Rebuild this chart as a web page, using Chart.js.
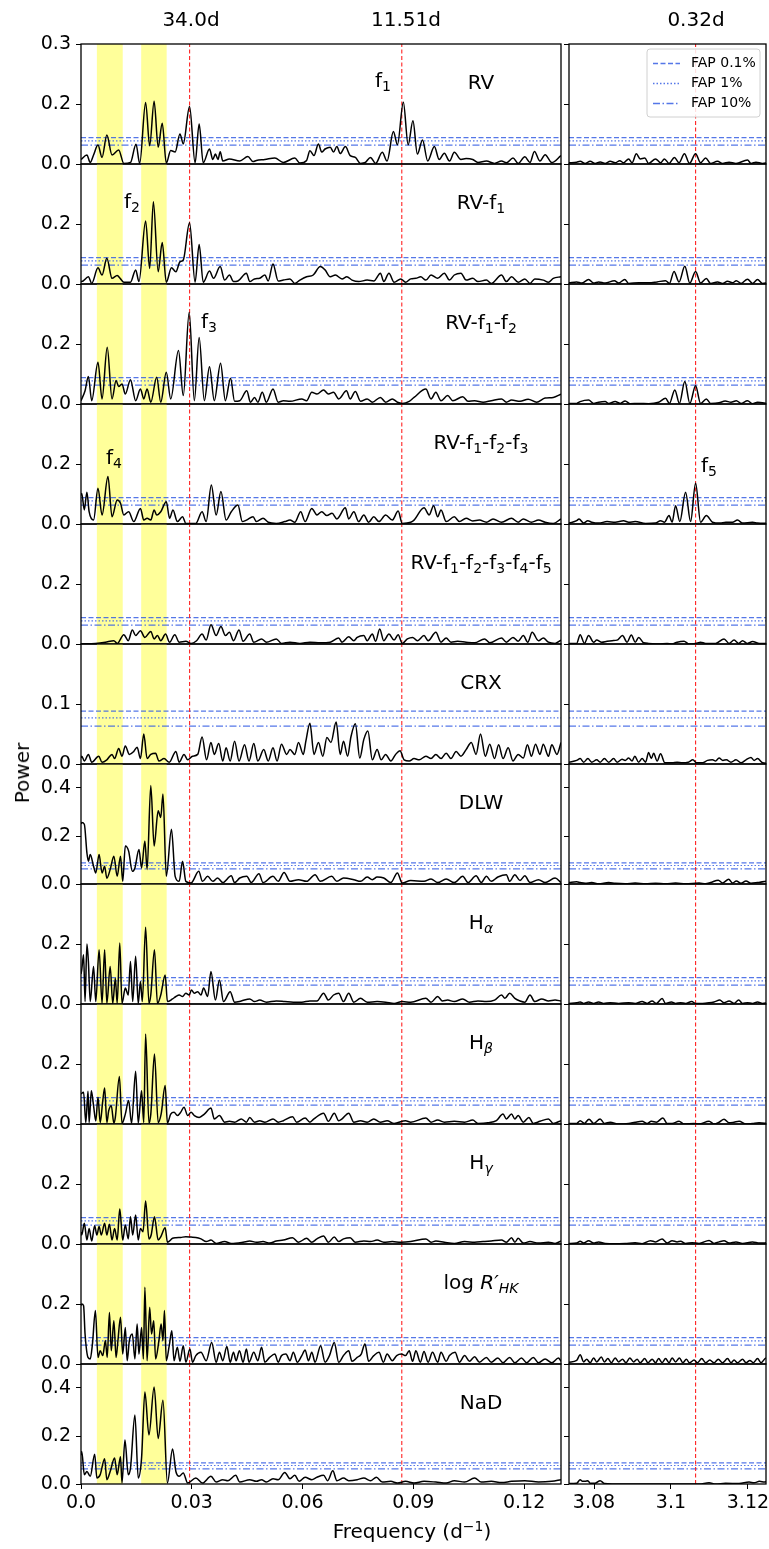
<!DOCTYPE html>
<html>
<head>
<meta charset="utf-8">
<script src="https://cdn.jsdelivr.net/npm/chart.js@4.4.1/dist/chart.umd.min.js"></script>
<style>
  body { margin: 0; background: #fff; }
  #fig { position: relative; width: 769px; height: 1549px; font-family: 'DejaVu Sans', sans-serif; overflow: hidden; }
  canvas { position: absolute; }
  .t { position: absolute; transform: translate(-50%, -50%); white-space: nowrap; font-size: 20px; color: #000; line-height: 1; }
  .t sub { font-size: 70%; vertical-align: -0.3em; line-height: 0; }
  .t sup { font-size: 70%; vertical-align: 0.5em; line-height: 0; }
</style>
</head>
<body>
<div id="fig"></div>
<script>
// periodograms: [frequency in 1e-3 d^-1, power in 1e-3]
const rvL = [[0,15],[1.6,30],[2.5,5],[3.4,30],[4.6,63],[5.7,22],[7.0,97],[8.4,30],[10.2,47],[11.6,2],[13.4,5],[14.9,66],[15.9,2],[17.5,205],[18.6,61],[19.8,209],[20.9,56],[22.0,136],[23.1,3],[24.3,45],[25.5,40],[26.8,100],[27.7,67],[29.4,192],[30.9,4],[32.0,133],[33.1,4],[34.8,50],[35.7,15],[36.4,33],[37.1,15],[37.7,41],[38.4,10],[40.2,17],[43.0,10],[45.2,25],[46.6,8],[47.5,12],[49.8,15],[52.5,20],[54.8,5],[57.9,20],[59.3,3],[61.1,12],[62.0,44],[63.1,28],[64.3,67],[65.2,40],[66.1,50],[67.5,56],[68.4,40],[69.3,58],[70.2,35],[71.6,58],[72.9,28],[74.3,22],[75.7,2],[77.0,5],[78.4,22],[79.8,2],[81.6,39],[82.9,10],[84.6,108],[85.7,64],[87.3,206],[88.6,64],[89.9,144],[91.1,33],[92.5,80],[93.9,10],[95.7,58],[97.0,15],[98.4,36],[99.8,10],[101.1,39],[102.9,15],[104.3,18],[106.1,15],[107.5,5],[109.8,10],[112.0,2],[113.9,10],[115.2,4],[117.0,20],[118.4,2],[120.2,24],[121.6,5],[122.8,42],[124.3,10],[125.7,31],[127.5,5],[130,28]];
const rvf1L = [[0,8],[0.2,8],[2.0,24],[2.9,2],[4.6,54],[5.7,30],[7.0,86],[8.4,19],[9.8,28],[10.7,17],[11.6,6],[13.4,6],[14.8,47],[15.7,8],[17.5,210],[18.6,52],[19.6,274],[20.9,41],[22.0,138],[23.1,6],[24.5,54],[25.7,41],[26.8,74],[27.7,80],[29.4,204],[30.9,6],[32.0,132],[33.1,6],[34.8,43],[35.9,19],[37.7,58],[38.9,13],[40.2,30],[41.3,8],[42.5,10],[44.8,36],[45.7,8],[47.0,17],[48.4,19],[49.8,30],[50.7,10],[52.0,67],[53.4,10],[54.8,13],[56.6,17],[57.9,2],[59.3,13],[61.1,24],[62.9,30],[64.8,58],[66.1,47],[67.5,24],[68.9,30],[70.7,17],[72.0,24],[73.4,13],[75.2,8],[77.5,13],[79.3,10],[81.1,36],[82.0,8],[83.4,36],[84.8,6],[86.6,17],[87.9,6],[89.3,17],[90.7,19],[92.0,24],[93.4,13],[94.8,30],[96.6,19],[98.4,36],[99.8,13],[101.1,30],[102.9,36],[104.3,13],[106.1,19],[107.5,8],[109.8,13],[111.1,2],[113.9,30],[115.2,8],[116.6,24],[118.4,6],[120.2,17],[121.6,2],[122.9,17],[125.2,13],[126.6,6],[127.9,19],[130,24]];
const rvf12L = [[0,11],[1.1,44],[2.0,92],[2.9,11],[4.6,139],[5.7,17],[7.1,189],[8.4,17],[9.5,78],[10.2,58],[11.1,67],[12.0,33],[13.4,81],[14.8,11],[16.1,50],[17.0,17],[17.9,50],[18.9,6],[20.5,89],[21.6,6],[23.1,106],[24.3,17],[26.4,178],[27.7,28],[29.3,306],[30.7,11],[32.0,222],[33.4,11],[34.8,124],[36.1,11],[37.8,136],[39.1,11],[40.5,86],[41.6,9],[43.0,11],[44.9,44],[45.9,6],[47.0,22],[47.9,6],[49.1,39],[50.2,6],[52.0,50],[53.4,6],[54.8,11],[56.6,9],[59.8,17],[61.1,11],[62.5,39],[63.9,33],[65.7,47],[67.0,33],[68.4,39],[69.8,17],[71.9,44],[72.9,17],[74.3,42],[75.7,9],[77.5,17],[78.9,6],[81.1,22],[82.5,6],[84.3,17],[85.7,6],[87.0,2],[88.9,9],[90.2,22],[93.4,50],[94.8,17],[96.1,39],[97.5,11],[99.3,28],[100.7,11],[103.4,24],[104.8,9],[106.6,11],[108.9,6],[111.1,11],[113.9,17],[115.2,6],[116.6,13],[118.9,9],[121.1,16],[123.4,6],[125.7,20],[127.9,22],[130,33]];
const rvf123L = [[0,95],[0.2,102],[0.9,47],[1.6,106],[2.2,41],[3.4,13],[4.6,119],[5.7,30],[7.3,158],[8.4,24],[9.8,80],[10.7,69],[11.6,30],[12.9,41],[14.3,8],[16.1,52],[17.0,13],[17.9,19],[18.9,13],[19.8,47],[20.5,30],[21.6,41],[23.1,74],[24.0,19],[24.9,47],[26.1,8],[27.5,24],[28.4,2],[31.1,2],[32.8,41],[33.9,8],[35.3,130],[36.6,30],[37.9,108],[39.3,13],[40.7,41],[42.5,63],[43.7,8],[44.8,13],[46.6,24],[47.5,8],[49.3,19],[50.7,6],[52.9,2],[55.2,8],[56.6,13],[57.9,6],[59.5,41],[60.7,8],[62.5,52],[63.9,30],[65.2,41],[66.6,28],[68.0,36],[69.3,17],[71.6,54],[72.5,17],[73.9,41],[75.2,8],[76.6,30],[77.9,6],[79.3,24],[80.7,8],[82.5,30],[84.3,13],[85.9,43],[87.0,2],[89.3,6],[90.2,13],[92.9,54],[94.3,30],[95.5,61],[96.6,24],[97.5,47],[98.9,8],[101.1,24],[102.5,8],[104.3,19],[106.1,10],[107.9,13],[109.8,6],[111.6,17],[113.9,6],[116.6,19],[118.4,6],[119.8,17],[122.0,6],[123.9,13],[125.7,6],[127.9,2],[130,17]];
const rvf12345L = [[0,0],[3.9,2],[6.6,6],[8.9,11],[9.8,2],[11.6,31],[12.8,11],[13.9,47],[14.8,28],[16.1,44],[17.3,22],[18.9,42],[19.8,17],[20.7,28],[21.6,11],[22.9,33],[24.0,6],[25.4,31],[26.6,6],[28.4,9],[29.8,2],[31.3,11],[32.8,33],[33.9,13],[35.2,64],[36.6,28],[37.9,58],[39.1,28],[40.2,39],[41.3,11],[42.8,47],[43.9,9],[45.7,33],[46.8,6],[48.9,17],[50.2,6],[52.9,17],[54.3,2],[56.6,6],[59.3,2],[62.0,6],[64.8,4],[67.5,6],[69.8,20],[70.7,6],[72.5,24],[73.9,11],[74.8,22],[76.6,28],[77.5,11],[78.9,33],[79.8,9],[80.9,50],[82.0,11],[83.4,33],[84.8,13],[85.9,31],[87.0,2],[88.4,17],[89.8,22],[91.1,11],[92.9,28],[94.0,11],[96.1,39],[97.5,6],[98.9,20],[100.2,6],[102.0,9],[104.3,6],[106.6,4],[109.3,17],[110.7,4],[113.9,20],[115.2,6],[117.0,22],[118.4,9],[119.8,28],[121.0,6],[122.2,39],[123.9,11],[125.2,20],[126.6,6],[128.4,2],[130,13]];
const crxL = [[0,10],[0.2,13],[0.9,5],[2.0,16],[2.9,3],[4.8,13],[5.7,3],[7.0,7],[8.4,16],[9.1,9],[10.2,26],[11.1,13],[12.0,30],[13.1,16],[14.3,21],[15.2,28],[16.1,9],[17.0,50],[17.9,9],[18.9,16],[20.2,18],[21.1,5],[22.5,9],[23.9,3],[25.7,21],[26.6,3],[27.9,16],[28.9,7],[30.2,13],[31.6,16],[32.8,45],[34.0,7],[35.2,36],[36.1,16],[37.3,34],[38.4,5],[39.3,27],[40.4,5],[41.6,38],[42.8,5],[44.3,32],[45.5,5],[46.8,34],[47.9,5],[49.5,24],[50.7,5],[52.0,27],[53.1,5],[54.3,33],[55.7,16],[56.6,24],[57.9,16],[58.9,36],[60.2,16],[60.9,38],[62.0,68],[63.1,16],[64.3,36],[65.5,13],[66.6,44],[67.7,36],[69.1,70],[70.2,16],[71.1,38],[72.2,13],[73.1,45],[74.3,67],[75.5,10],[76.6,41],[77.7,55],[78.9,7],[80.2,24],[81.3,7],[82.5,16],[83.9,5],[85.2,16],[86.4,22],[87.5,7],[88.9,5],[90.2,9],[91.6,7],[93.4,13],[94.8,9],[96.1,16],[97.5,9],[98.9,18],[100.2,9],[101.6,21],[102.9,13],[104.3,24],[105.7,36],[107.0,16],[108.2,50],[109.5,13],[110.7,33],[112.0,9],[113.1,32],[114.3,9],[115.7,27],[117.0,5],[118.4,16],[119.8,10],[120.9,32],[122.0,13],[123.1,33],[124.3,16],[125.2,33],[126.6,13],[127.5,32],[128.9,16],[130,36]];
const dlwL = [[0,250],[0.2,256],[0.9,249],[1.6,130],[2.0,95],[2.5,123],[3.4,74],[4.0,46],[4.9,123],[5.7,46],[6.4,74],[7.0,24],[7.9,60],[8.9,116],[9.8,32],[10.7,116],[11.3,11],[12.0,158],[12.9,137],[13.9,53],[14.6,67],[15.7,144],[16.4,67],[17.3,179],[17.9,60],[18.9,410],[19.8,158],[20.9,305],[21.6,277],[22.2,375],[23.1,32],[24.5,228],[25.5,32],[26.6,11],[27.5,95],[28.4,11],[29.8,4],[31.9,53],[32.9,11],[34.3,32],[35.7,11],[37.0,25],[38.4,6],[40.7,34],[41.6,6],[43.0,25],[44.9,32],[46.1,6],[48.2,43],[49.3,6],[52.0,32],[53.4,11],[55.0,48],[56.6,11],[58.9,18],[61.1,11],[63.4,39],[64.8,11],[67.9,32],[69.3,11],[71.1,25],[73.9,18],[75.7,11],[77.5,29],[78.9,18],[80.2,29],[82.0,25],[83.9,6],[85.7,46],[87.0,4],[89.3,15],[92.9,11],[94.8,21],[96.6,6],[98.9,21],[101.1,6],[103.4,32],[104.8,6],[107.0,34],[108.4,6],[109.8,32],[111.1,11],[112.9,29],[115.2,39],[116.1,11],[117.5,39],[118.9,15],[120.2,34],[121.6,6],[123.9,18],[125.7,6],[128.4,25],[130,6]];
const haL = [[0,100],[0.2,114],[0.7,164],[1.1,8],[1.6,200],[2.0,142],[2.5,8],[3.4,125],[4.0,8],[4.9,181],[5.7,2],[6.4,181],[7.0,2],[7.9,125],[8.6,2],[9.3,86],[9.8,2],[10.5,203],[11.1,2],[12.0,53],[12.8,30],[13.4,142],[14.0,8],[14.8,159],[15.5,2],[16.1,75],[16.6,8],[17.5,256],[18.4,2],[18.9,30],[19.9,181],[20.7,2],[21.6,30],[22.8,97],[23.4,8],[24.8,17],[25.7,25],[26.6,30],[27.5,25],[28.4,36],[29.3,30],[29.9,47],[30.7,36],[31.6,41],[32.5,30],[33.2,53],[34.3,25],[35.2,108],[36.4,13],[37.5,80],[38.6,8],[40.4,41],[41.6,6],[43.4,10],[45.7,17],[47.0,8],[48.4,13],[50.2,6],[52.9,10],[55.2,8],[57.5,6],[59.8,6],[62.0,10],[63.9,10],[65.7,36],[67.0,13],[68.4,30],[69.8,36],[71.1,8],[72.5,36],[73.9,6],[75.7,19],[77.5,6],[80.2,8],[82.5,6],[84.8,2],[87.0,8],[89.3,6],[93.4,19],[94.8,6],[96.6,25],[97.9,10],[99.3,13],[101.1,8],[103.4,17],[105.2,6],[107.5,10],[109.8,8],[112.0,13],[113.9,30],[114.8,19],[116.1,36],[117.5,19],[118.9,10],[120.2,6],[121.6,30],[122.9,8],[124.8,17],[126.6,10],[128.4,13],[130,10]];
const hbL = [[0,100],[0.7,106],[1.3,5],[1.9,109],[2.2,5],[2.8,111],[3.4,61],[4.0,10],[4.6,89],[5.2,5],[5.9,78],[6.4,120],[7.0,5],[7.5,44],[8.2,61],[8.9,3],[9.3,22],[10.4,158],[11.1,2],[12.0,33],[12.9,78],[13.7,2],[14.8,176],[15.5,3],[16.4,111],[17.0,5],[17.5,300],[18.4,3],[18.9,33],[19.9,233],[20.9,5],[21.7,33],[22.8,128],[23.4,3],[24.3,33],[25.2,39],[26.1,28],[27.0,39],[27.9,56],[28.9,28],[29.8,39],[30.7,28],[32.0,22],[33.4,33],[35.2,53],[36.1,17],[37.5,28],[38.9,6],[40.2,9],[41.6,6],[43.4,17],[44.8,6],[45.7,22],[47.0,6],[48.4,11],[49.8,6],[52.0,17],[53.4,6],[54.8,11],[57.3,24],[58.4,6],[60.7,20],[62.0,6],[63.1,17],[65.7,36],[67.0,9],[68.6,36],[69.8,11],[70.7,17],[72.5,36],[73.9,6],[75.7,11],[77.5,6],[79.3,17],[81.1,6],[82.9,11],[84.8,2],[87.9,11],[89.3,6],[93.4,20],[94.8,6],[96.6,13],[98.4,6],[101.1,9],[103.9,6],[106.1,13],[107.5,2],[110.2,4],[112.5,11],[114.3,33],[115.2,17],[116.6,33],[117.5,17],[118.4,28],[119.8,6],[121.3,22],[122.5,2],[124.3,9],[126.6,17],[127.9,2],[130,11]];
const hgL = [[0,40],[0.2,30],[0.9,69],[1.6,13],[2.2,52],[2.9,10],[3.7,61],[4.3,30],[4.9,58],[5.5,30],[6.4,69],[7.0,30],[7.7,66],[8.4,13],[9.1,52],[9.8,13],[10.5,117],[11.3,13],[12.0,63],[12.8,17],[13.4,91],[14.0,30],[14.8,97],[15.5,13],[16.1,52],[16.8,41],[17.5,143],[18.4,17],[19.0,30],[19.9,91],[20.9,13],[21.6,24],[22.8,54],[23.4,6],[24.8,19],[25.7,21],[27.0,22],[28.4,24],[29.8,23],[31.1,22],[32.5,17],[33.9,8],[35.2,13],[36.6,2],[38.9,8],[40.7,2],[43.9,6],[45.7,10],[47.5,6],[49.3,8],[51.1,3],[52.9,10],[54.8,13],[57.3,21],[58.9,6],[61.1,19],[62.5,6],[63.9,17],[65.7,27],[67.0,6],[68.6,23],[69.8,8],[71.1,17],[72.9,21],[74.3,6],[76.6,10],[78.4,8],[80.2,13],[82.0,6],[84.3,8],[86.6,6],[89.3,8],[93.4,17],[94.8,6],[96.1,10],[98.4,6],[101.1,2],[103.9,8],[106.6,6],[108.9,8],[111.1,10],[113.9,13],[115.2,6],[116.6,21],[117.5,6],[118.4,19],[119.8,3],[121.6,8],[123.9,3],[126.6,6],[128.4,2],[130,10]];
const rhkL = [[0,195],[0.2,200],[0.7,194],[1.1,100],[1.9,22],[2.5,17],[3.1,67],[3.9,178],[4.6,22],[5.2,44],[5.9,28],[6.6,78],[7.1,22],[7.7,172],[8.2,44],[8.9,144],[9.5,22],[10.0,78],[10.7,156],[11.3,33],[12.0,122],[12.5,11],[13.1,78],[13.9,100],[14.6,17],[15.2,133],[15.7,33],[16.4,122],[16.9,17],[17.3,256],[17.9,11],[18.6,189],[19.1,100],[19.7,144],[20.2,17],[21.1,78],[21.7,133],[22.2,78],[22.6,178],[23.1,11],[23.9,61],[24.6,111],[25.2,11],[26.1,56],[26.8,9],[27.7,61],[28.4,6],[29.5,50],[30.2,6],[31.1,28],[32.5,39],[33.9,11],[35.4,72],[36.6,6],[37.5,39],[38.4,11],[39.5,58],[40.4,6],[41.3,39],[42.0,11],[42.9,44],[43.9,6],[44.8,50],[45.5,6],[46.8,39],[47.9,11],[48.9,56],[49.8,6],[51.1,22],[52.5,33],[53.4,6],[54.3,28],[55.5,33],[56.6,11],[57.5,39],[58.6,6],[59.8,28],[60.7,47],[61.6,11],[62.5,39],[63.4,6],[64.9,61],[66.1,6],[67.3,28],[68.6,72],[69.8,6],[71.1,28],[72.5,44],[73.4,9],[74.8,22],[75.9,33],[76.9,67],[77.9,9],[79.3,28],[80.7,39],[81.9,6],[82.9,33],[84.3,11],[85.5,28],[86.8,33],[87.9,28],[88.9,44],[89.8,9],[90.7,44],[91.9,6],[92.9,42],[94.0,6],[95.2,39],[96.6,6],[97.5,39],[98.9,9],[99.8,28],[101.3,39],[102.5,6],[103.9,28],[105.2,9],[106.6,24],[107.9,6],[109.8,22],[111.1,6],[112.9,20],[114.3,4],[116.1,22],[117.5,4],[119.3,20],[120.7,4],[122.5,22],[123.9,4],[125.7,17],[127.5,4],[129.3,20],[130,9]];
const nadL = [[0,120],[0.2,135],[0.9,39],[1.6,52],[2.5,32],[3.7,124],[4.3,25],[5.2,39],[6.4,105],[7.0,18],[7.9,52],[9.1,108],[9.8,39],[10.7,114],[11.1,4],[11.9,183],[12.8,39],[13.4,66],[14.6,287],[15.5,25],[16.4,108],[17.3,383],[18.4,204],[19.8,404],[20.9,190],[22.2,349],[23.4,4],[24.8,146],[25.7,52],[26.6,32],[27.7,46],[28.9,4],[31.1,25],[32.9,4],[35.2,32],[36.6,8],[38.4,18],[39.8,14],[41.9,36],[43.0,8],[45.7,18],[47.5,11],[48.9,18],[50.2,8],[52.0,22],[53.4,18],[55.2,48],[56.6,22],[57.9,36],[59.1,11],[60.7,28],[62.5,18],[63.9,28],[65.7,36],[66.8,14],[68.2,55],[69.3,14],[71.1,25],[72.5,14],[74.8,18],[76.6,25],[78.4,14],[80.0,28],[81.6,8],[83.9,11],[85.7,4],[87.9,11],[90.2,4],[92.9,11],[96.1,8],[98.9,4],[101.1,14],[103.9,8],[106.6,25],[108.4,8],[111.1,11],[113.9,6],[116.6,11],[120.2,14],[123.9,8],[127.5,11],[130,18]];

// right-hand window around 3.1 d^-1
const rvR = [[3073.5,4],[3075.5,6],[3076.4,9],[3077.7,2],[3079.0,9],[3080.3,2],[3081.6,7],[3082.9,2],[3084.2,9],[3085.5,4],[3086.7,11],[3087.7,4],[3089.0,17],[3089.9,4],[3091.0,34],[3092.0,17],[3093.2,20],[3094.2,2],[3096.0,17],[3097.3,4],[3098.3,17],[3099.5,2],[3100.9,22],[3102.1,4],[3103.5,34],[3104.8,2],[3106.4,34],[3107.7,4],[3109.0,20],[3110.3,2],[3112.1,9],[3113.4,2],[3115.1,6],[3116.9,2],[3119.9,13],[3120.8,2],[3122.1,6],[3123.8,2],[3125.1,4]];
const rvf1R = [[3073.5,4],[3075.5,7],[3076.8,3],[3078.6,15],[3079.9,3],[3081.2,7],[3082.9,3],[3085.3,11],[3086.4,3],[3088.0,15],[3089.0,2],[3091.6,4],[3094.2,4],[3096.4,7],[3098.6,11],[3099.6,2],[3100.8,42],[3102.1,7],[3103.6,59],[3104.9,3],[3106.4,42],[3107.7,3],[3109.2,18],[3110.3,2],[3112.1,7],[3113.4,2],[3114.7,9],[3116.0,4],[3117.0,11],[3118.2,2],[3119.9,16],[3121.2,2],[3122.5,15],[3123.8,2],[3125.1,4]];
const rvf12R = [[3073.5,2],[3075.5,2],[3076.4,8],[3078.6,13],[3079.9,2],[3081.2,6],[3082.9,8],[3083.8,2],[3085.5,8],[3086.8,2],[3088.1,10],[3089.4,1],[3091.6,2],[3094.2,1],[3096.8,6],[3098.6,19],[3099.6,2],[3101.0,47],[3102.2,2],[3103.6,75],[3104.9,2],[3106.4,61],[3107.7,2],[3109.2,17],[3110.3,2],[3112.5,4],[3114.1,10],[3115.6,6],[3117.0,11],[3118.2,2],[3119.9,11],[3121.2,1],[3122.5,6],[3125.1,2]];
const rvf123R = [[3073.5,3],[3075.5,11],[3076.1,17],[3077.3,3],[3078.4,11],[3079.4,6],[3081.2,3],[3083.4,8],[3085.5,6],[3087.7,11],[3089.0,6],[3090.7,8],[3093.4,2],[3096.0,3],[3097.3,11],[3098.3,6],[3099.5,28],[3100.3,6],[3101.2,61],[3102.3,8],[3103.8,106],[3105.1,8],[3106.4,136],[3107.7,6],[3109.2,28],[3110.8,6],[3112.7,3],[3114.3,6],[3116.0,6],[3117.3,13],[3118.6,3],[3121.2,6],[3122.5,3],[3125.1,2]];
const rvf12345R = [[3073.5,2],[3075.5,2],[3076.4,31],[3077.5,2],[3078.6,28],[3079.9,6],[3080.7,13],[3082.0,6],[3083.4,9],[3084.7,11],[3086.0,13],[3087.4,28],[3088.6,6],[3089.7,30],[3090.7,6],[3091.6,22],[3092.9,4],[3094.2,2],[3096.8,0],[3099.0,2],[3100.3,0],[3101.6,6],[3103.4,9],[3104.7,0],[3106.4,2],[3107.7,6],[3109.0,2],[3111.6,2],[3113.8,17],[3115.1,2],[3116.4,13],[3117.6,2],[3118.6,11],[3119.9,2],[3121.2,8],[3123.0,2],[3125.1,2]];
const crxR = [[3073.5,3],[3075.5,6],[3076.4,9],[3077.3,3],[3078.4,9],[3079.4,3],[3080.7,7],[3081.6,3],[3082.7,9],[3083.8,3],[3085.1,9],[3086.0,3],[3087.3,8],[3088.1,6],[3089.0,10],[3089.9,5],[3090.6,13],[3091.6,3],[3092.5,9],[3093.4,3],[3094.2,19],[3094.9,9],[3095.5,18],[3096.4,5],[3097.3,17],[3098.4,2],[3100.3,2],[3101.6,3],[3102.9,2],[3104.5,3],[3105.7,7],[3106.6,2],[3108.2,2],[3109.5,6],[3110.8,7],[3111.6,5],[3112.5,10],[3113.5,6],[3114.4,7],[3115.6,3],[3116.9,7],[3118.2,2],[3119.5,7],[3120.8,11],[3121.6,6],[3122.5,9],[3123.8,2],[3125.1,1]];
const dlwR = [[3073.5,6],[3075.5,9],[3076.4,6],[3077.7,3],[3079.4,6],[3081.2,1],[3083.8,6],[3085.5,3],[3088.1,1],[3090.7,4],[3093.4,1],[3096.0,3],[3098.6,1],[3101.2,4],[3103.8,1],[3107.3,4],[3109.0,1],[3110.3,6],[3112.3,16],[3113.4,4],[3115.0,20],[3116.0,4],[3117.0,13],[3118.2,3],[3119.5,13],[3120.8,3],[3122.5,6],[3124.3,10],[3125.1,13]];
const haR = [[3073.5,2],[3075.5,4],[3076.4,7],[3077.3,2],[3078.6,7],[3079.9,2],[3081.2,7],[3082.5,2],[3084.2,4],[3086.4,2],[3089.0,4],[3090.7,2],[3092.5,8],[3093.8,2],[3095.1,10],[3096.2,2],[3097.7,18],[3098.6,2],[3100.1,7],[3101.2,2],[3102.5,4],[3103.8,2],[3105.4,8],[3106.4,2],[3108.2,2],[3109.9,4],[3111.2,7],[3112.7,13],[3113.8,4],[3115.1,10],[3116.4,2],[3117.6,13],[3118.6,2],[3119.9,4],[3121.2,2],[3122.5,7],[3123.8,2],[3125.1,4]];
const hbR = [[3073.5,2],[3075.5,2],[3076.4,11],[3077.5,2],[3078.7,16],[3079.9,2],[3081.6,17],[3082.7,2],[3084.2,6],[3086.4,0],[3089.0,2],[3090.7,6],[3092.5,9],[3093.8,2],[3094.9,9],[3096.2,6],[3097.9,20],[3099.0,2],[3100.3,2],[3102.1,9],[3103.4,0],[3106.0,2],[3107.3,0],[3109.9,9],[3111.2,0],[3112.5,6],[3113.8,16],[3115.1,4],[3116.4,6],[3117.7,9],[3119.5,0],[3121.2,2],[3122.9,4],[3125.1,2]];
const hgR = [[3073.5,2],[3075.5,3],[3076.4,9],[3077.3,3],[3078.6,11],[3079.9,3],[3081.2,7],[3082.9,2],[3085.5,1],[3088.1,2],[3090.7,4],[3092.5,1],[3094.7,11],[3096.0,7],[3097.7,17],[3099.0,3],[3100.3,11],[3101.6,7],[3102.5,9],[3103.8,2],[3105.5,4],[3107.3,2],[3109.9,12],[3111.2,2],[3112.5,7],[3113.8,11],[3115.1,3],[3116.9,7],[3118.6,2],[3121.2,7],[3123.0,3],[3125.1,4]];
const rhkR = [[3073.5,6],[3075.5,12],[3076.4,31],[3077.3,7],[3078.1,16],[3079.0,4],[3079.9,20],[3080.7,7],[3081.9,23],[3082.7,7],[3083.6,18],[3084.5,4],[3085.5,20],[3086.4,7],[3087.4,16],[3088.3,4],[3089.3,20],[3090.3,7],[3091.2,16],[3092.0,4],[3093.2,18],[3094.0,4],[3095.1,16],[3096.0,4],[3096.8,18],[3097.7,4],[3098.6,18],[3099.5,4],[3100.3,20],[3101.2,7],[3102.2,20],[3103.1,4],[3104.0,16],[3104.8,4],[3106.0,13],[3106.9,4],[3108.0,18],[3109.0,4],[3110.1,13],[3111.2,4],[3112.3,16],[3113.4,4],[3114.7,18],[3115.6,4],[3116.4,13],[3117.3,4],[3118.6,16],[3119.5,4],[3120.5,12],[3121.4,4],[3122.5,18],[3123.4,4],[3124.7,20],[3125.1,12]];
const nadR = [[3073.5,2],[3075.5,3],[3076.4,18],[3077.0,11],[3077.7,11],[3078.4,14],[3079.0,3],[3080.3,3],[3081.6,14],[3082.7,2],[3084.7,0],[3088.1,0],[3094.2,0],[3100.3,0],[3107.3,0],[3109.9,5],[3111.6,0],[3114.2,3],[3117.7,2],[3120.3,8],[3121.6,5],[3123.0,11],[3124.3,8],[3125.1,14]];

const leftSeries = [rvL, rvf1L, rvf12L, rvf123L, rvf12345L, crxL, dlwL, haL, hbL, hgL, rhkL, nadL];
const rightSeries = [rvR, rvf1R, rvf12R, rvf123R, rvf12345R, crxR, dlwR, haR, hbR, hgR, rhkR, nadR];

const rowLabels = ['RV', 'RV-f<sub>1</sub>', 'RV-f<sub>1</sub>-f<sub>2</sub>', 'RV-f<sub>1</sub>-f<sub>2</sub>-f<sub>3</sub>',
  'RV-f<sub>1</sub>-f<sub>2</sub>-f<sub>3</sub>-f<sub>4</sub>-f<sub>5</sub>', 'CRX', 'DLW',
  'H<sub><i>α</i></sub>', 'H<sub><i>β</i></sub>', 'H<sub><i>γ</i></sub>', 'log <i>R′</i><sub><i>HK</i></sub>', 'NaD'];
const yMax = [0.4, 0.4, 0.4, 0.4, 0.4, 0.2, 0.5, 0.4, 0.4, 0.4, 0.4, 0.5];
const yTickVals = [[0, 0.2, 0.4], [0, 0.2], [0, 0.2], [0, 0.2], [0, 0.2], [0, 0.1], [0, 0.2, 0.4], [0, 0.2], [0, 0.2], [0, 0.2], [0, 0.2], [0, 0.2, 0.4]];
const fapLevels = [0.088, 0.077, 0.063];        // FAP 0.1%, 1%, 10%
const fapNames = ['FAP 0.1%', 'FAP 1%', 'FAP 10%'];
const yellowBands = [[0.0043, 0.0113], [0.0163, 0.0232]];
const leftMarks = [1 / 34.0, 1 / 11.51];
const rightMarks = [3.1064];
const xTicksL = [0, 0.03, 0.06, 0.09, 0.12], xLabelsL = ['0.0', '0.03', '0.06', '0.09', '0.12'];
const xTicksR = [3.08, 3.10, 3.12], xLabelsR = ['3.08', '3.1', '3.12'];

// layout
const ROW_TOP = 44, ROW_H = 120, PAD = 22;
const FAP_COLOR = 'rgba(55,95,228,0.85)';
const fapDash = [[5, 2.5], [1.5, 2], [7, 2.5, 1.5, 2.5]];

Chart.defaults.font.family = "'DejaVu Sans', sans-serif";
Chart.defaults.color = '#000';
const fig = document.getElementById('fig');

function framePlugin(bands) {
  return {
    id: 'frame',
    beforeDatasetsDraw(chart) {
      if (!bands) return;
      const {ctx, chartArea: a, scales: {x}} = chart;
      ctx.save();
      ctx.fillStyle = '#ffff9a';
      bands.forEach(([f0, f1]) => {
        const p0 = x.getPixelForValue(f0), p1 = x.getPixelForValue(f1);
        ctx.fillRect(p0, a.top, p1 - p0, a.bottom - a.top);
      });
      ctx.restore();
    },
    afterDraw(chart) {
      const {ctx, chartArea: a} = chart;
      ctx.save();
      ctx.strokeStyle = '#000';
      ctx.lineWidth = 1.3;
      ctx.strokeRect(a.left, a.top, a.right - a.left, a.bottom - a.top);
      ctx.restore();
    }
  };
}

const legendPlugin = {
  id: 'fapLegend',
  afterDraw(chart) {
    const {ctx, chartArea: a} = chart;
    const bx = a.right - 119, by = a.top + 5, bw = 113, bh = 68;
    ctx.save();
    ctx.fillStyle = 'rgba(255,255,255,0.85)';
    ctx.strokeStyle = '#d0d0d0';
    ctx.lineWidth = 1;
    ctx.beginPath();
    ctx.roundRect(bx, by, bw, bh, 3);
    ctx.fill();
    ctx.stroke();
    ctx.font = "14px 'DejaVu Sans'";
    ctx.textBaseline = 'middle';
    fapNames.forEach((name, k) => {
      const y = Math.round(by + 14 + k * 20) + 0.5;
      ctx.strokeStyle = FAP_COLOR;
      ctx.lineWidth = 1.3;
      ctx.setLineDash(fapDash[k]);
      ctx.beginPath();
      ctx.moveTo(bx + 6, y);
      ctx.lineTo(bx + 33, y);
      ctx.stroke();
      ctx.setLineDash([]);
      ctx.fillStyle = '#000';
      ctx.fillText(name, bx + 44, y);
    });
    ctx.restore();
  }
};

function panel(side, r) {
  const isLeft = side === 'L';
  const isBottom = r === leftSeries.length - 1;
  const pts = isLeft ? leftSeries[r] : rightSeries[r];
  const [xmin, xmax] = isLeft ? [0, 0.13] : [3.0735, 3.1247];
  const cv = document.createElement('canvas');
  const w = isLeft ? 565 : 240;
  const padRight = isLeft ? 4 : 33;
  const h = PAD + ROW_H + (isBottom ? 45 : PAD);
  cv.width = w; cv.height = h;
  cv.style.left = (isLeft ? 0 : 559) + 'px';
  cv.style.top = (ROW_TOP + r * ROW_H - PAD) + 'px';
  cv.style.width = w + 'px'; cv.style.height = h + 'px';
  fig.appendChild(cv);

  const ds = [{
    data: pts.map(([f, p]) => ({x: f / 1000, y: p / 1000})),
    borderColor: '#000', borderWidth: 1.5, pointRadius: 0,
    cubicInterpolationMode: 'monotone'
  }];
  (isLeft ? leftMarks : rightMarks).forEach(f => ds.push({
    data: [{x: f, y: 0}, {x: f, y: yMax[r]}],
    borderColor: 'rgb(255,35,35)', borderWidth: 1.1, borderDash: [4, 2.5], pointRadius: 0
  }));
  fapLevels.forEach((v, k) => ds.push({
    data: [{x: xmin, y: v}, {x: xmax, y: v}],
    borderColor: FAP_COLOR, borderWidth: 1.2, borderDash: fapDash[k], pointRadius: 0
  }));

  const plugins = [framePlugin(isLeft ? yellowBands : null)];
  if (!isLeft && r === 0) plugins.push(legendPlugin);

  const tickGrid = {display: true, drawOnChartArea: false, drawTicks: true, tickLength: 5, color: '#000', lineWidth: 1};
  new Chart(cv, {
    type: 'line',
    data: {datasets: ds},
    plugins: plugins,
    options: {
      responsive: false, animation: false, events: [],
      layout: {padding: {top: PAD, bottom: isBottom ? 0 : PAD, left: 0, right: padRight}},
      plugins: {legend: {display: false}, tooltip: {enabled: false}},
      scales: {
        x: {
          type: 'linear', min: xmin, max: xmax, display: isBottom,
          afterBuildTicks: s => { s.ticks = (isLeft ? xTicksL : xTicksR).map(v => ({value: v})); },
          afterFit: s => { s.height = isBottom ? 45 : 0; },
          grid: tickGrid, border: {display: false},
          ticks: {font: {size: 19}, color: '#000', padding: 3, maxRotation: 0, autoSkip: false,
                  callback: (v, i) => (isLeft ? xLabelsL : xLabelsR)[i]}
        },
        y: {
          min: 0, max: yMax[r],
          afterBuildTicks: s => { s.ticks = yTickVals[r].map(v => ({value: v})); },
          afterFit: s => { s.width = isLeft ? 81 : 10; },
          grid: tickGrid, border: {display: false},
          ticks: {display: isLeft, font: {size: 19}, color: '#000', padding: 5,
                  callback: v => (r === 0 && v === 0.4) ? '0.3' : v.toFixed(1)}
        }
      }
    }
  });
}

for (let r = 0; r < leftSeries.length; r++) {
  panel('L', r);
  panel('R', r);
}

function addText(html, x, y, size, rotate) {
  const d = document.createElement('div');
  d.className = 't';
  d.innerHTML = html;
  d.style.left = x + 'px';
  d.style.top = y + 'px';
  if (size) d.style.fontSize = size + 'px';
  if (rotate) d.style.transform = 'translate(-50%,-50%) rotate(-90deg)';
  fig.appendChild(d);
}

rowLabels.forEach((lab, r) => addText(lab, 481, ROW_TOP + r * ROW_H + 38));
addText('f<sub>1</sub>', 383, 80);
addText('f<sub>2</sub>', 132, 201);
addText('f<sub>3</sub>', 209, 321);
addText('f<sub>4</sub>', 114, 457);
addText('f<sub>5</sub>', 709, 465);
addText('34.0d', 191, 19);
addText('11.51d', 406, 19);
addText('0.32d', 696, 19);
addText('Power', 22, 773, 20, true);
addText('Frequency (d<sup>−1</sup>)', 412, 1531);
</script>
</body>
</html>
